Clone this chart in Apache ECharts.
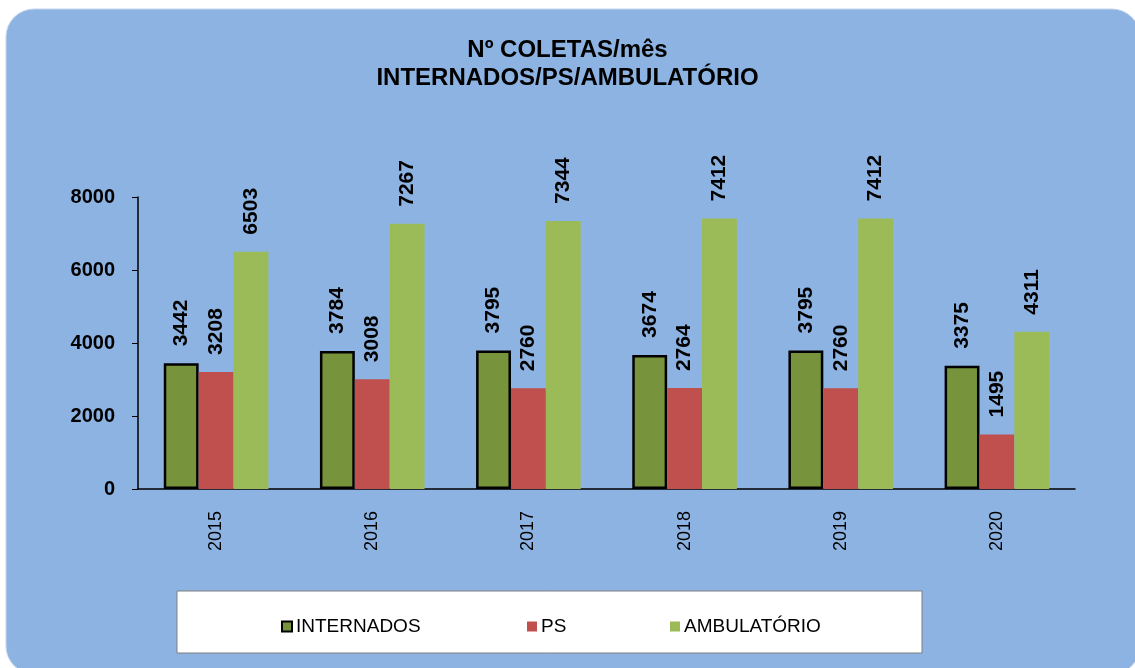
<!DOCTYPE html>
<html>
<head>
<meta charset="utf-8">
<title>Nº COLETAS/mês</title>
<script src="https://cdn.jsdelivr.net/npm/echarts@6/dist/echarts.min.js"></script>
<style>
    html, body { margin: 0; padding: 0; background: #ffffff; }
    #main { width: 1135px; height: 668px; }
</style>
</head>
<body>
<div id="main"></div>
<script>
    // dados
    var anos = ['2015', '2016', '2017', '2018', '2019', '2020'];
    var internados = [3442, 3784, 3795, 3674, 3795, 3375];
    var ps = [3208, 3008, 2760, 2764, 2760, 1495];
    var ambulatorio = [6503, 7267, 7344, 7412, 7412, 4311];
    var yTicks = [0, 2000, 4000, 6000, 8000];

    var fonte = '"Liberation Sans", Arial, sans-serif';

    var chart = echarts.init(document.getElementById('main'));

    function rotulo() {
        return {
            show: true,
            position: 'top',
            distance: 17,
            rotate: 90,
            align: 'left',
            verticalAlign: 'middle',
            color: '#000',
            fontSize: 21,
            fontWeight: 'bold',
            fontFamily: fonte
        };
    };

    function legenda(nome, left) {
        return {
            data: [nome],
            left: left,
            top: 612,
            icon: 'rect',
            itemWidth: 10,
            itemHeight: 10,
            itemGap: 4,
            selectedMode: false,
            textStyle: {
                color: '#000',
                fontSize: 19,
                fontFamily: fonte,
                padding: [0, 0, 0, -1]
            }
        };
    };

    var option = {
        backgroundColor: '#ffffff',
        animation: false,
        graphic: [
            {
                type: 'rect',
                z: -10,
                shape: { x: 6, y: 9, width: 1134, height: 665, r: 28 },
                style: { fill: '#8DB3E2', stroke: '#c5d6ec', lineWidth: 1 }
            },
            {
                type: 'rect',
                z: -5,
                shape: { x: 177, y: 591, width: 745, height: 62 },
                style: { fill: '#ffffff', stroke: '#7f7f7f', lineWidth: 1 }
            },
            {
                type: 'text',
                left: 'center',
                top: 36,
                style: {
                    text: 'Nº COLETAS/mês\nINTERNADOS/PS/AMBULATÓRIO',
                    fill: '#000',
                    font: 'bold 24px ' + fonte,
                    lineHeight: 28,
                    textAlign: 'center'
                }
            }
        ],
        legend: [
            legenda('INTERNADOS', 276),
            legenda('PS', 522),
            legenda('AMBULATÓRIO', 665)
        ],
        grid: {
            left: 138,
            right: 60,
            top: 197,
            bottom: 179
        },
        xAxis: {
            type: 'category',
            data: anos,
            axisLine: { show: true, lineStyle: { color: '#000', width: 1.5 } },
            axisTick: { show: false },
            axisLabel: {
                rotate: 90,
                margin: 22,
                color: '#000',
                fontSize: 18,
                fontFamily: fonte
            }
        },
        yAxis: {
            type: 'value',
            min: yTicks[0],
            max: yTicks[yTicks.length - 1],
            interval: yTicks[1] - yTicks[0],
            axisLine: { show: true, lineStyle: { color: '#000', width: 1.5 } },
            axisTick: { show: true, length: 6, lineStyle: { color: '#000' } },
            splitLine: { show: false },
            axisLabel: {
                margin: 23,
                color: '#000',
                fontSize: 20,
                fontWeight: 'bold',
                fontFamily: fonte,
                formatter: function (v) { return String(v); }
            }
        },
        series: [
            {
                name: 'INTERNADOS',
                type: 'bar',
                data: internados,
                barGap: '0%',
                barCategoryGap: '33%',
                itemStyle: { color: '#77933C', borderColor: '#000', borderWidth: 2.5 },
                label: rotulo()
            },
            {
                name: 'PS',
                type: 'bar',
                data: ps,
                itemStyle: { color: '#C0504D' },
                label: rotulo()
            },
            {
                name: 'AMBULATÓRIO',
                type: 'bar',
                data: ambulatorio,
                itemStyle: { color: '#9BBB59' },
                label: rotulo()
            }
        ]
    };

    chart.setOption(option);
</script>
</body>
</html>
